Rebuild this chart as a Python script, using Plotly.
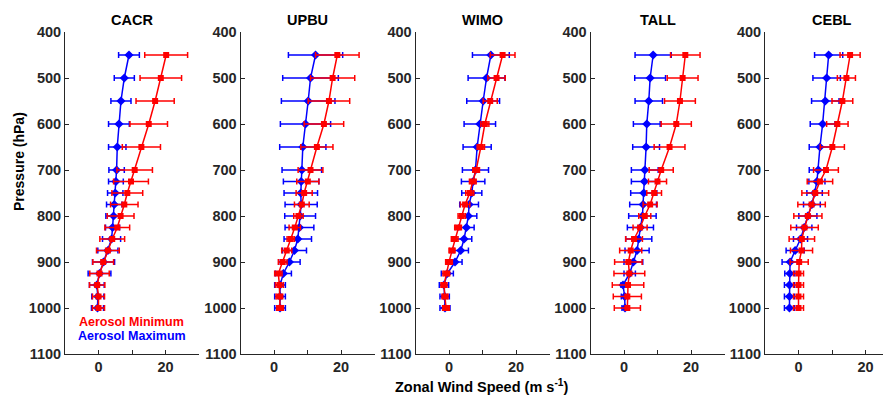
import plotly.graph_objects as go

levels = [450, 500, 550, 600, 650, 700, 725, 750, 775, 800, 825, 850, 875, 900, 925, 950, 975, 1000]
stations = ["CACR", "UPBU", "WIMO", "TALL", "CEBL"]

# Aerosol Minimum (red)
min_vals = {
    "CACR": [20.2, 18.6, 16.9, 15.0, 12.8, 10.8, 9.7, 8.6, 7.7, 6.6, 5.6, 4.1, 2.8, 1.4, 0.3, -0.4, 0.0, 0.0],
    "UPBU": [18.9, 17.5, 16.4, 14.9, 12.8, 10.9, 10.1, 9.0, 8.3, 7.3, 6.2, 5.0, 3.8, 2.6, 1.3, 1.6, 1.6, 1.8],
    "WIMO": [16.0, 14.2, 12.3, 10.7, 9.5, 8.1, 7.1, 6.2, 4.8, 3.8, 2.7, 1.7, 0.9, 0.0, -0.8, -1.5, -1.2, -0.9],
    "TALL": [18.3, 17.5, 16.7, 15.6, 13.6, 11.1, 10.0, 9.0, 7.8, 6.2, 4.8, 3.0, 2.0, 1.3, 1.6, 1.2, 1.0, 1.0],
    "CEBL": [15.4, 14.3, 13.1, 11.6, 10.1, 8.2, 6.4, 5.0, 3.9, 2.8, 1.8, 1.0, 0.9, 0.2, 0.0, 0.0, 0.0, 0.0],
}
min_err = {
    "CACR": [6.4, 6.2, 5.7, 5.6, 5.7, 5.3, 5.2, 4.6, 4.1, 4.0, 3.7, 3.7, 3.4, 3.1, 2.9, 2.3, 1.8, 1.8],
    "UPBU": [6.5, 6.6, 6.2, 5.9, 4.8, 3.7, 3.3, 2.4, 2.2, 1.4, 1.7, 1.1, 1.5, 1.3, 1.1, 1.2, 1.0, 1.0],
    "WIMO": [3.7, 2.6, 2.1, 1.2, 1.1, 1.0, 1.0, 1.2, 1.4, 1.1, 1.0, 1.0, 0.9, 1.0, 1.0, 0.9, 0.9, 1.0],
    "TALL": [4.4, 4.6, 4.6, 4.5, 4.6, 3.6, 2.7, 2.2, 2.1, 1.8, 2.1, 2.5, 3.3, 4.1, 4.6, 4.7, 4.2, 3.9],
    "CEBL": [3.0, 2.7, 3.1, 3.2, 3.6, 3.7, 3.8, 4.0, 4.1, 4.2, 4.1, 3.8, 3.3, 2.7, 1.5, 1.5, 1.5, 1.5],
}
# Aerosol Maximum (blue)
max_vals = {
    "CACR": [9.1, 7.7, 6.7, 6.1, 5.6, 5.4, 5.2, 5.0, 4.7, 4.5, 4.2, 3.9, 2.8, 1.5, 0.3, -0.5, -0.2, -0.3],
    "UPBU": [12.4, 10.9, 10.2, 9.4, 8.6, 8.3, 8.1, 8.0, 8.1, 7.8, 7.6, 7.1, 6.1, 4.6, 2.8, 1.8, 1.8, 1.8],
    "WIMO": [12.5, 11.2, 10.2, 9.2, 8.4, 7.9, 7.2, 6.8, 6.0, 5.8, 5.2, 4.5, 3.5, 1.8, -0.5, -1.5, -1.3, -1.2],
    "TALL": [8.7, 7.8, 7.4, 6.8, 6.6, 6.2, 6.1, 5.9, 5.7, 5.5, 4.9, 4.4, 3.9, 2.8, 1.7, -0.3, 0.2, 0.3],
    "CEBL": [9.0, 8.4, 8.0, 7.2, 6.4, 5.9, 5.5, 4.8, 4.0, 2.8, 1.7, 0.6, -1.0, -2.5, -2.6, -2.7, -2.7, -2.7],
}
max_err = {
    "CACR": [3.1, 3.0, 3.0, 3.1, 2.6, 2.3, 2.2, 2.3, 2.3, 2.3, 2.1, 2.7, 3.0, 3.3, 3.4, 2.2, 1.8, 1.8],
    "UPBU": [8.1, 8.3, 8.0, 7.5, 6.9, 5.9, 5.3, 5.0, 4.8, 4.6, 4.3, 4.1, 3.6, 3.2, 2.4, 1.6, 1.6, 1.6],
    "WIMO": [5.5, 5.5, 4.9, 4.7, 4.2, 3.9, 3.5, 3.0, 2.8, 2.5, 2.3, 2.3, 2.3, 2.1, 1.8, 1.4, 1.4, 1.5],
    "TALL": [5.4, 4.6, 4.1, 4.0, 4.0, 4.0, 3.9, 3.9, 4.0, 4.1, 3.9, 3.9, 3.6, 2.8, 1.7, 0.6, 1.0, 0.9],
    "CEBL": [4.2, 4.1, 4.1, 3.7, 3.2, 2.7, 2.4, 2.3, 2.5, 2.7, 2.3, 2.1, 2.7, 2.4, 1.5, 1.5, 1.5, 1.5],
}

y_ticks = [400, 500, 600, 700, 800, 900, 1000, 1100]
x_ticks = [0, 20]

# page offset (browser body margin) -> figure is drawn 8px in from top-left
OFF = 8
PW, PH = 891, 395            # page/window size
W, H = PW - OFF, PH - OFF    # figure size

def fx(px):  # page x pixel -> paper fraction
    return (px - OFF) / W

def fy(py):  # page y pixel (from top) -> paper fraction (from bottom)
    return 1 - (py - OFF) / H

panel_left = [65, 240.5, 415.5, 590.5, 765]
panel_w = 134
px_per_unit = 3.35
y_top, y_bot = 32, 354

AX = "#262626"
FONT = "Liberation Sans, Arial, sans-serif"
TICK = 14.5

fig = go.Figure()
layout = dict(
    width=W, height=H,
    margin=dict(l=0, r=0, t=0, b=0, autoexpand=False),
    paper_bgcolor="white", plot_bgcolor="white",
    showlegend=False,
    font=dict(family=FONT, size=TICK, color=AX, weight="bold"),
)

annotations = []
for i, st in enumerate(stations):
    n = i + 1
    xa = "x" if n == 1 else f"x{n}"
    ya = "y" if n == 1 else f"y{n}"
    left = panel_left[i]
    right = min(left + panel_w, PW)
    xmax = -10 + (right - left) / px_per_unit
    for vals, errs, color, sym, size in [
        (max_vals[st], max_err[st], "#0000ff", "diamond", 7),
        (min_vals[st], min_err[st], "#ff0000", "square", 6),
    ]:
        fig.add_trace(go.Scatter(
            x=vals, y=levels, xaxis=xa, yaxis=ya,
            mode="lines+markers",
            line=dict(color=color, width=1.5),
            marker=dict(color=color, symbol=sym, size=size),
            error_x=dict(type="data", array=errs, visible=True,
                         color=color, thickness=1.5, width=3),
        ))
    layout["xaxis" if n == 1 else f"xaxis{n}"] = dict(
        domain=[fx(left), min(fx(right), 1.0)], anchor=ya, automargin=False,
        range=[-10, xmax], tickvals=x_ticks,
        ticks="inside", ticklen=4, tickcolor=AX, tickwidth=1,
        minor=dict(tick0=0, dtick=10, ticks="inside", ticklen=4, tickcolor=AX, tickwidth=1, showgrid=False),
        showline=True, linecolor=AX, linewidth=1, showgrid=False,
        zeroline=False, tickfont=dict(size=TICK, color=AX, weight="bold"),
    )
    layout["yaxis" if n == 1 else f"yaxis{n}"] = dict(
        domain=[fy(y_bot), fy(y_top)], anchor=xa, automargin=False,
        range=[1100, 400], tickvals=y_ticks,
        ticks="inside", ticklen=4, tickcolor=AX, tickwidth=1,
        showline=True, linecolor=AX, linewidth=1, showgrid=False,
        zeroline=False, tickfont=dict(size=TICK, color=AX, weight="bold"),
    )
    annotations.append(dict(
        text=st, xref="paper", yref="paper",
        x=fx(left + 67), y=fy(19.5), xanchor="center", yanchor="middle",
        showarrow=False, font=dict(size=14.5, color="black", weight="bold"),
    ))

annotations += [
    dict(text="Aerosol Minimum", xref="paper", yref="paper", x=fx(77), y=fy(322),
         xanchor="left", yanchor="middle", showarrow=False,
         font=dict(size=12.5, color="#ff0000", weight="bold")),
    dict(text="Aerosol Maximum", xref="paper", yref="paper", x=fx(76), y=fy(336),
         xanchor="left", yanchor="middle", showarrow=False,
         font=dict(size=12.5, color="#0000ff", weight="bold")),
    dict(text="Zonal Wind Speed (m s<sup>-1</sup>)", xref="paper", yref="paper",
         x=fx(481), y=fy(386), xanchor="center", yanchor="middle",
         showarrow=False, font=dict(size=14.5, color="black", weight="bold")),
    dict(text="Pressure (hPa)", xref="paper", yref="paper", textangle=-90,
         x=fx(18.5), y=fy(161.5), xanchor="center", yanchor="middle",
         showarrow=False, font=dict(size=14, color="black", weight="bold")),
]
layout["annotations"] = annotations
fig.update_layout(**layout)
fig.write_html("out.html")
